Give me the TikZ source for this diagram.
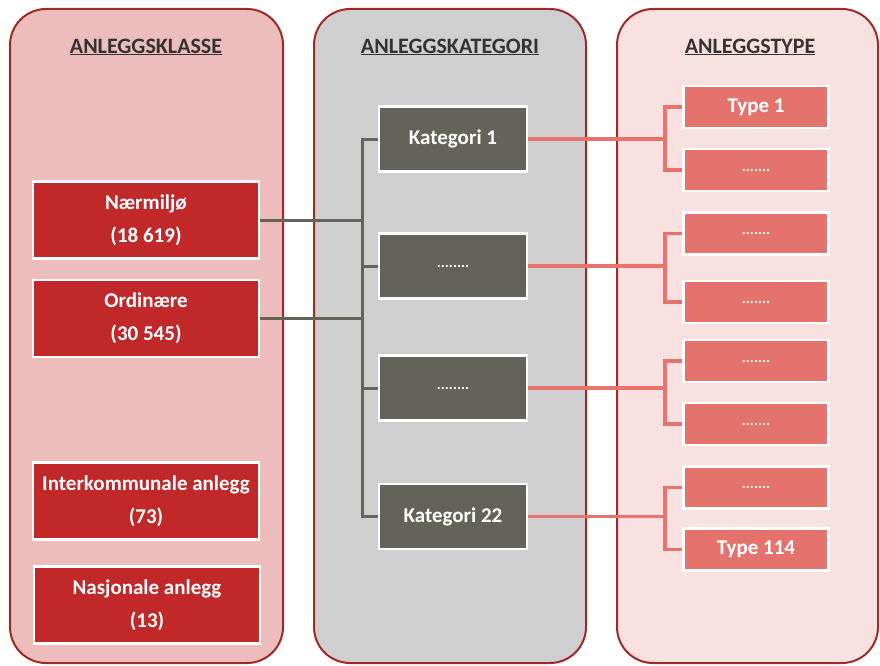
\documentclass[tikz,border=0pt]{standalone}
\usepackage{fontspec}
\setmainfont{Carlito}
\begin{document}
\begin{tikzpicture}[x=1pt,y=-1pt,
  panel/.style={draw=panelborder,line width=2pt,rounded corners=36pt},
  hdr/.style={font=\bfseries\fontsize{22}{26}\selectfont,text=hdrtext,inner sep=0pt},
  box/.style={draw=white,line width=2.5pt,inner sep=0pt,text=white,font=\bfseries\fontsize{21}{33}\selectfont,align=center},
  klasse/.style={box,fill=klassefill,minimum width=226pt,minimum height=77pt},
  kat/.style={box,fill=katfill,minimum width=148pt,minimum height=65pt},
  typ/.style={box,fill=typfill,minimum width=145pt,minimum height=42pt},
  grayline/.style={draw=katfill,line width=3pt},
  pinkline/.style={draw=pinkline,line width=3.5pt}
]
\definecolor{panelborder}{HTML}{9E2A26}
\definecolor{leftfill}{HTML}{ECBDBC}
\definecolor{midfill}{HTML}{CFCFCF}
\definecolor{rightfill}{HTML}{FAE1E1}
\definecolor{hdrtext}{HTML}{333333}
\definecolor{klassefill}{HTML}{C0282A}
\definecolor{katfill}{HTML}{63635B}
\definecolor{typfill}{HTML}{E5736D}
\definecolor{pinkline}{HTML}{E8736E}

\useasboundingbox (0,0) rectangle (880,666);
\fill[white] (0,0) rectangle (880,666);

% panels
\draw[panel,fill=leftfill] (10,663) rectangle (283,9);
\draw[panel,fill=midfill] (314,663) rectangle (586,9);
\draw[panel,fill=rightfill] (617,663) rectangle (878,9);

% headings
\node[hdr] (h1) at (146,47) {\underline{ANLEGGSKLASSE}};
\node[hdr] (h2) at (450,47) {\underline{ANLEGGSKATEGORI}};
\node[hdr] (h3) at (750,47) {\underline{ANLEGGSTYPE}};

% coordinates for trunk and brackets
\coordinate (trunk) at (362,0);
\coordinate (bx) at (665,0);

% left boxes
\node[klasse] (n1) at (146,220) {Nærmiljø\\(18 619)};
\node[klasse] (n2) at (146,318.5) {Ordinære\\(30 545)};
\node[klasse] (n3) at (146,501) {Interkommunale anlegg\\(73)};
\node[klasse] (n4) at (147,605) {Nasjonale anlegg\\(13)};

% category boxes
\node[kat] (k1) at (453,139) {Kategori 1};
\node[kat] (k2) at (453,266) {\fontsize{15}{18}\selectfont ........};
\node[kat] (k3) at (453,388) {\fontsize{15}{18}\selectfont ........};
\node[kat] (k4) at (453,516.5) {Kategori 22};

% type boxes
\node[typ] (t1) at (756,107) {Type 1};
\node[typ] (t2) at (756,170) {\fontsize{15}{18}\selectfont .......};
\node[typ] (t3) at (756,233.5) {\fontsize{15}{18}\selectfont .......};
\node[typ] (t4) at (756,302) {\fontsize{15}{18}\selectfont .......};
\node[typ] (t5) at (756,361) {\fontsize{15}{18}\selectfont .......};
\node[typ] (t6) at (756,424) {\fontsize{15}{18}\selectfont .......};
\node[typ] (t7) at (756,487.5) {\fontsize{15}{18}\selectfont .......};
\node[typ] (t8) at (756,549.5) {Type 114};

% connectors
\draw[grayline] (n1.east) -- (n1.east -| trunk);
\draw[grayline] (n2.east) -- (n2.east -| trunk);
\draw[grayline,line join=miter] (k1.west) -- (k1.west -| trunk) -- (k4.west -| trunk) -- (k4.west);
\draw[grayline] (k2.west -| trunk) -- (k2.west);
\draw[grayline] (k3.west -| trunk) -- (k3.west);

\draw[pinkline] (k1.east) -- (k1.east -| bx);
\draw[pinkline] (k2.east) -- (k2.east -| bx);
\draw[pinkline] (k3.east) -- (k3.east -| bx);
\draw[pinkline] (k4.east) -- (k4.east -| bx);
\draw[pinkline] (t1.west) -- (t1.west -| bx) -- (t2.west -| bx) -- (t2.west);
\draw[pinkline] (t3.west) -- (t3.west -| bx) -- (t4.west -| bx) -- (t4.west);
\draw[pinkline] (t5.west) -- (t5.west -| bx) -- (t6.west -| bx) -- (t6.west);
\draw[pinkline] (t7.west) -- (t7.west -| bx) -- (t8.west -| bx) -- (t8.west);
\end{tikzpicture}
\end{document}
